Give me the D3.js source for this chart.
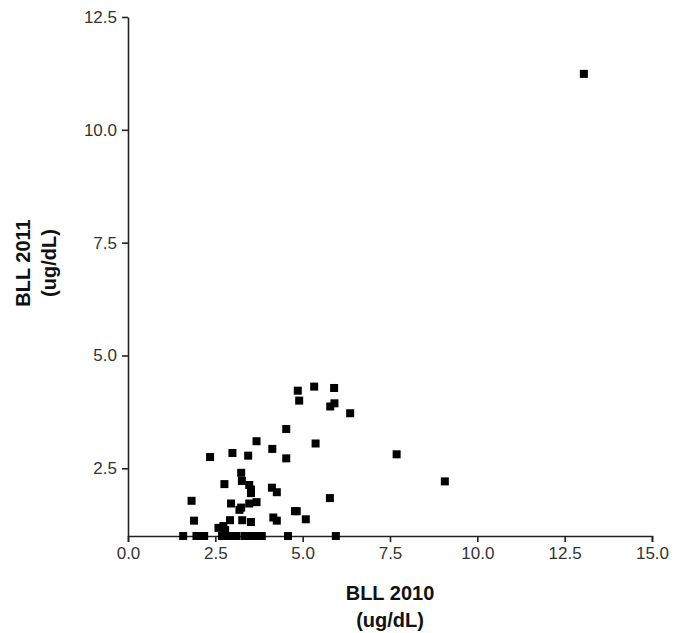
<!DOCTYPE html>
<html>
<head>
<meta charset="utf-8">
<script src="https://cdn.jsdelivr.net/npm/d3@7"></script>
<style>
  body { margin: 0; background: #fff; }
  svg { display: block; font-family: "Liberation Sans", Arial, sans-serif; }
  .axis path, .axis line { stroke: #222; stroke-width: 1.6; }
  .axis text { fill: #333; font-size: 17px; }
  .title { font-weight: bold; font-size: 20px; fill: #111; }
</style>
</head>
<body>
<svg id="chart" width="686" height="633"></svg>
<script>
// BLL 2010 (x) vs BLL 2011 (y), ug/dL
const bll2010 = [
  4.86, 5.33, 5.90, 4.90, 5.79, 5.91, 6.36, 4.53, 5.37, 3.68,
  4.13, 2.35, 2.99, 3.44, 4.53, 3.24, 3.26, 2.76, 3.47, 3.52,
  3.52, 4.12, 4.26, 1.82, 2.95, 3.47, 3.68, 3.24, 3.19, 5.78,
  4.78, 4.83, 1.89, 2.92, 3.27, 3.52, 4.16, 4.26, 5.09, 2.59,
  2.73, 2.78, 7.69, 9.07, 13.05,
  1.58, 1.96, 2.06, 2.18, 2.69, 2.86, 3.01, 3.11, 3.35, 3.49,
  3.68, 3.83, 4.58, 5.95
];
const bll2011 = [
  4.22, 4.31, 4.28, 4.00, 3.87, 3.94, 3.72, 3.37, 3.05, 3.10,
  2.93, 2.75, 2.84, 2.78, 2.72, 2.40, 2.22, 2.15, 2.13, 2.03,
  1.95, 2.07, 1.97, 1.78, 1.72, 1.72, 1.75, 1.63, 1.58, 1.84,
  1.55, 1.55, 1.34, 1.35, 1.35, 1.31, 1.41, 1.34, 1.37, 1.18,
  1.22, 1.13, 2.81, 2.21, 11.24,
  1.00, 1.00, 1.00, 1.00, 1.00, 1.00, 1.00, 1.00, 1.00, 1.00,
  1.00, 1.00, 1.00, 1.00
];
const xTicks = [0, 2.5, 5, 7.5, 10, 12.5, 15];
const yTicks = [2.5, 5, 7.5, 10, 12.5];

const svg = d3.select('#chart');
const SQ = 8;

const x = d3.scaleLinear().domain([0, 15]).range([128, 652]);
const y = d3.scaleLinear().domain([1, 12.5]).range([536, 17]);

const fmt = d3.format('.1f');

svg.append('g')
  .attr('class', 'axis')
  .attr('transform', `translate(0,${y(1)})`)
  .call(d3.axisBottom(x).tickValues(xTicks).tickFormat(fmt).tickSize(6).tickSizeOuter(6).tickPadding(5));

svg.append('g')
  .attr('class', 'axis')
  .attr('transform', `translate(${x(0)},0)`)
  .call(d3.axisLeft(y).tickValues(yTicks).tickFormat(fmt).tickSize(6).tickSizeOuter(0).tickPadding(5));

// points
const pts = bll2010.map((v, i) => ({ x: v, y: bll2011[i] }));
svg.append('g').selectAll('rect')
  .data(pts)
  .join('rect')
  .attr('x', d => x(d.x) - SQ / 2)
  .attr('y', d => y(d.y) - SQ / 2)
  .attr('width', SQ).attr('height', SQ)
  .attr('fill', '#000');

// axis titles
const xt = svg.append('text')
  .attr('class', 'title')
  .attr('text-anchor', 'middle')
  .attr('x', (x(0) + x(15)) / 2);
xt.append('tspan').attr('x', (x(0) + x(15)) / 2).attr('y', 600).text('BLL 2010');
xt.append('tspan').attr('x', (x(0) + x(15)) / 2).attr('y', 627).text('(ug/dL)');

const yt = svg.append('text')
  .attr('class', 'title')
  .attr('text-anchor', 'middle')
  .attr('transform', 'translate(0,263) rotate(-90)');
yt.append('tspan').attr('x', 0).attr('y', 30).text('BLL 2011');
yt.append('tspan').attr('x', 0).attr('y', 56).text('(ug/dL)');
</script>
</body>
</html>
